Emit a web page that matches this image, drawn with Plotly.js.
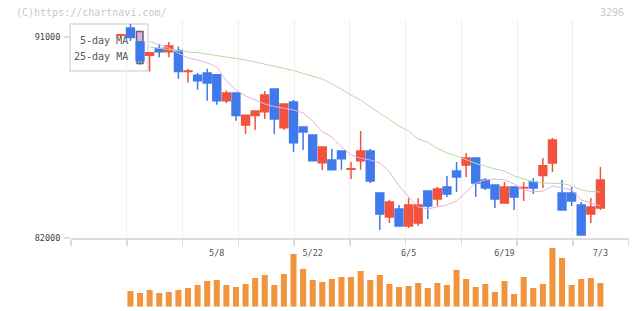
<!DOCTYPE html>
<html>
<head>
<meta charset="utf-8">
<script src="https://cdn.plot.ly/plotly-3.0.1.min.js"></script>
<style>
  html, body { margin: 0; padding: 0; background: #fff; }
  #chart { width: 640px; height: 311px; }
</style>
</head>
<body>
<div id="chart"></div>
<script>
// Daily prices for code 3296, 2023/4/19 - 2023/7/3 (trading days only)
const dates = [
  '4/19','4/20','4/21','4/24','4/25','4/26','4/27','4/28','5/1','5/2',
  '5/8','5/9','5/10','5/11','5/12','5/15','5/16','5/17','5/18','5/19',
  '5/22','5/23','5/24','5/25','5/26','5/29','5/30','5/31','6/1','6/2',
  '6/5','6/6','6/7','6/8','6/9','6/12','6/13','6/14','6/15','6/16',
  '6/19','6/20','6/21','6/22','6/23','6/26','6/27','6/28','6/29','6/30','7/3'
];

const open = [
  91080, 91400, 90780, 90180, 90480, 90340, 90400, 89460, 89290, 89390,
  89310, 88150, 88490, 87060, 87480, 87650, 88670, 86940, 88090, 86970,
  86610, 85370, 85490, 85900, 85080, 85460, 85900, 84010, 82940, 83300,
  82540, 82670, 84100, 83750, 84280, 85000, 85270, 85580, 84600, 84370,
  83570, 84280, 84240, 84510, 84800, 85360, 84010, 84010, 83480, 83070, 83340
];
const high = [
  91100, 91580, 90800, 90300, 90690, 90780, 90580, 89570, 89390, 89580,
  89310, 88600, 88490, 87500, 87690, 88580, 88670, 88000, 88180, 86970,
  86610, 86070, 85980, 85900, 85400, 86790, 85980, 84010, 83700, 83480,
  83790, 83790, 84100, 84280, 84780, 85400, 85810, 85580, 84690, 84370,
  84510, 84280, 84510, 84690, 85580, 86480, 84600, 84280, 83610, 83790, 85180
];
const low = [
  91080, 90820, 89760, 89460, 90090, 90090, 89130, 88960, 88640, 88150,
  87970, 88050, 87250, 86660, 86840, 87330, 86660, 86840, 85860, 85940,
  85460, 85050, 85060, 85060, 84640, 85060, 84460, 82360, 82670, 82540,
  82450, 82540, 82850, 83430, 83840, 84060, 84730, 83840, 84150, 83340,
  83570, 83250, 83660, 83970, 84240, 84960, 83250, 83430, 82130, 82670, 83250
];
const close = [
  91100, 90980, 89940, 90300, 90340, 90600, 89460, 89480, 89040, 88940,
  88150, 88490, 87480, 87500, 87690, 88400, 87330, 88000, 86270, 86750,
  85460, 86070, 85060, 85550, 85100, 85900, 84550, 83070, 83610, 82540,
  83480, 83480, 83430, 84190, 83970, 84730, 85580, 84460, 84240, 83750,
  84280, 83840, 84260, 84240, 85240, 86390, 83250, 83660, 82130, 83390, 84600
];
const volume = [
  null, 1570, 1370, 1670, 1370, 1470, 1670, 1870, 2170, 2570,
  2670, 2170, 1970, 2270, 2870, 3170, 2170, 3270, 5270, 3770,
  2670, 2470, 2770, 2970, 2970, 3570, 2670, 3170, 2270, 1970,
  2070, 2370, 1870, 2370, 2170, 3670, 2770, 1970, 2270, 1470,
  2570, 1270, 2970, 1870, 2270, 5870, 4870, 2170, 2770, 2870, 2370
];
const ma5 = [
  null, null, null, 90800, 90640, 90510, 90280, 90060, 89970, 89840,
  89660, 89030, 88630, 88360, 88180, 88000, 87890, 87820, 87730, 87600,
  87240, 86750, 86520, 86080, 85720, 85580, 85490, 85360, 84960, 84330,
  83840, 83390, 83300, 83390, 83480, 83660, 84060, 84460, 84600, 84640,
  84600, 84420, 84150, 84070, 84100, 84330, 84240, 84150, 83700, 83570, 83430
];
const ma25 = [
  null, null, null, 90550, 90490, 90420, 90370, 90330, 90300, 90240,
  90170, 90100, 90060, 89970, 89880, 89790, 89700, 89610, 89500, 89370,
  89230, 89120, 88900, 88670, 88400, 88180, 87870, 87600, 87310, 87020,
  86790, 86430, 86300, 86010, 85810, 85670, 85490, 85340, 85220, 85090,
  85000, 84780, 84640, 84530, 84460, 84460, 84440, 84350, 84150, 84080, 84060
];
const tickDates = ['5/8', '5/22', '6/5', '6/19', '7/3'];
const yTicks = [82000, 91000];

// session index: 4/20 is 0, the session before it is -1
const xs = dates.map((d, i) => i - 1);
const tickIdx = tickDates.map(d => dates.indexOf(d) - 1);

const RED = '#f1533f', BLUE = '#4079ea', ORANGE = '#f0953d';
const PINK = '#e6aee8', GREEN = '#b4dca4';
const MONO = '"DejaVu Sans Mono", "Liberation Mono", monospace';

const W = 640, H = 311;
const fx = px => px / W;
const fy = py => 1 - py / H;

const xRange = [-6.2, 51.93];
const gridVals = [];
for (let k = 0; k <= 10; k++) gridVals.push(xRange[0] + k * (xRange[1] - xRange[0]) / 10);

const traces = [
  {
    type: 'scatter', mode: 'lines', x: xs, y: ma25, xaxis: 'x', yaxis: 'y',
    line: { color: GREEN, width: 1 }, connectgaps: false, hoverinfo: 'skip'
  },
  {
    type: 'scatter', mode: 'lines', x: xs, y: ma5, xaxis: 'x', yaxis: 'y',
    line: { color: PINK, width: 1 }, connectgaps: false, hoverinfo: 'skip'
  },
  {
    type: 'candlestick', x: xs, open: open, high: high, low: low, close: close,
    xaxis: 'x', yaxis: 'y', whiskerwidth: 0,
    increasing: { line: { color: RED, width: 1.5 }, fillcolor: RED },
    decreasing: { line: { color: BLUE, width: 1.5 }, fillcolor: BLUE },
    hoverinfo: 'skip'
  },
  {
    type: 'bar', x: xs, y: volume, xaxis: 'x2', yaxis: 'y2',
    marker: { color: ORANGE, line: { width: 0 } }, hoverinfo: 'skip'
  }
];

const layout = {
  width: W, height: H,
  margin: { l: 0, r: 0, t: 0, b: 0 },
  paper_bgcolor: '#fff', plot_bgcolor: 'rgba(0,0,0,0)',
  showlegend: false,
  boxgap: 0.18, boxgroupgap: 0,
  bargap: 0.37,
  xaxis: {
    domain: [fx(71), fx(628.5)], range: xRange, anchor: 'y',
    rangeslider: { visible: false },
    showline: true, linecolor: '#dcdcdc', linewidth: 2,
    showgrid: false, zeroline: false,
    tickmode: 'array', tickvals: tickIdx, ticktext: tickDates,
    ticks: '', ticklabelstandoff: 6,
    tickfont: { family: MONO, size: 8.5, color: '#555' },
    minor: {
      tickmode: 'array', tickvals: gridVals,
      showgrid: true, gridcolor: '#eeeeee', gridwidth: 1,
      ticks: 'outside', ticklen: 6, tickcolor: '#dcdcdc', tickwidth: 1.5
    },
    fixedrange: true
  },
  yaxis: {
    domain: [fy(238), fy(20)], range: [82000, 91761], anchor: 'x',
    showline: false, showgrid: false, zeroline: false,
    tickmode: 'array', tickvals: yTicks, ticktext: yTicks.map(String),
    ticks: 'outside', ticklen: 6, tickcolor: '#dcdcdc', tickwidth: 1.5,
    ticklabelstandoff: 2,
    tickfont: { family: MONO, size: 8.5, color: '#444' },
    fixedrange: true
  },
  xaxis2: {
    domain: [fx(71), fx(628.5)], range: xRange, anchor: 'y2',
    visible: false, showgrid: false, zeroline: false, fixedrange: true
  },
  yaxis2: {
    domain: [fy(306.7), fy(246.7)], range: [0, 6000], anchor: 'x2',
    visible: false, showgrid: false, zeroline: false, fixedrange: true
  },
  shapes: [
    // legend panel
    { type: 'rect', xref: 'paper', yref: 'paper', layer: 'below',
      x0: fx(70), x1: fx(148), y0: fy(71), y1: fy(24),
      fillcolor: '#fff', line: { color: '#dcdcdc', width: 1.5 } },
    { type: 'rect', xref: 'paper', yref: 'paper', layer: 'below',
      x0: fx(136.5), x1: fx(143), y0: fy(42), y1: fy(31.5),
      fillcolor: PINK, line: { color: '#666', width: 1.5 } },
    { type: 'rect', xref: 'paper', yref: 'paper', layer: 'below',
      x0: fx(137), x1: fx(143), y0: fy(63.5), y1: fy(52),
      fillcolor: GREEN, line: { color: '#666', width: 1.5 } }
  ],
  annotations: [
    { xref: 'paper', yref: 'paper', x: fx(14), y: fy(12), xanchor: 'left', yanchor: 'middle',
      text: '(C)https://chartnavi.com/', showarrow: false,
      font: { family: MONO, size: 10, color: '#c8c8c8' } },
    { xref: 'paper', yref: 'paper', x: fx(626), y: fy(12), xanchor: 'right', yanchor: 'middle',
      text: '3296', showarrow: false,
      font: { family: MONO, size: 10, color: '#c8c8c8' } },
    { xref: 'paper', yref: 'paper', x: fx(130), y: fy(40), xanchor: 'right', yanchor: 'middle',
      text: '5-day MA', showarrow: false,
      font: { family: MONO, size: 10, color: '#555' } },
    { xref: 'paper', yref: 'paper', x: fx(130), y: fy(57), xanchor: 'right', yanchor: 'middle',
      text: '25-day MA', showarrow: false,
      font: { family: MONO, size: 10, color: '#555' } }
  ]
};

Plotly.newPlot('chart', traces, layout, { staticPlot: true, displayModeBar: false });
</script>
</body>
</html>
